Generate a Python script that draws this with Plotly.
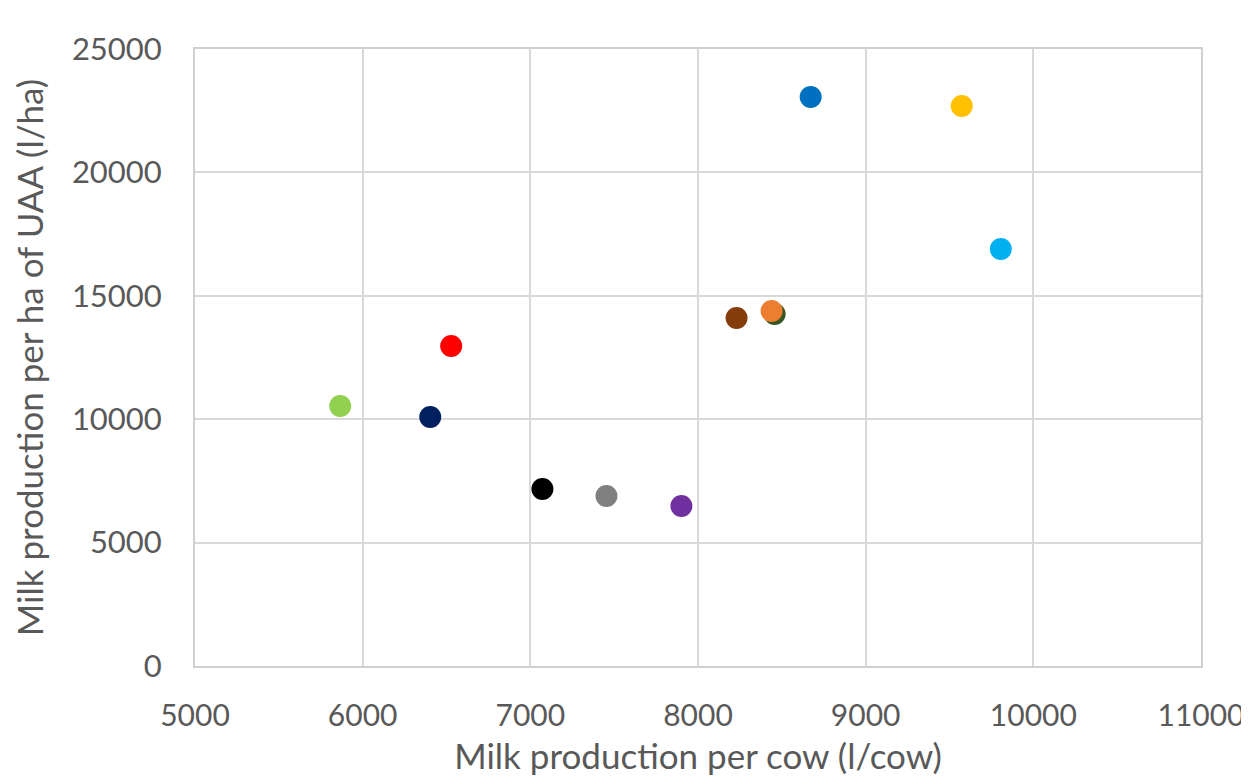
import plotly.graph_objects as go

milk_per_cow = [5866, 6403, 6528, 7072, 7454, 7901, 8230, 8457, 8439, 8672, 9573, 9806]
milk_per_ha = [10535, 10089, 12966, 7172, 6888, 6483, 14100, 14262, 14384, 23055, 22690, 16896]
colors = ["#92D050", "#002060", "#FF0000", "#000000", "#808080", "#7030A0",
          "#843C0C", "#375623", "#ED7D31", "#0070C0", "#FFC000", "#00B0F0"]

fig = go.Figure()
fig.add_trace(go.Scatter(
    x=milk_per_cow, y=milk_per_ha, mode="markers",
    marker=dict(size=22, color=colors, line=dict(width=0)),
    showlegend=False,
))

font_family = "Lato, Open Sans, sans-serif"
fig.update_layout(
    width=1241, height=768,
    margin=dict(l=187, r=48, t=41, b=110),
    paper_bgcolor="white", plot_bgcolor="white",
    font=dict(family=font_family, size=30, color="#595959"),
    xaxis=dict(
        range=[5000, 11000], dtick=1000, tick0=5000, tickformat="d",
        showgrid=True, gridcolor="#D9D9D9", gridwidth=2,
        showline=True, linecolor="#D0D0D0", linewidth=2, mirror=True,
        zeroline=False, ticks="", automargin=False, ticklabelstandoff=22,
        ticklabeloverflow="allow",
        title=dict(text="Milk production per cow (l/cow)", standoff=27,
                   font=dict(size=35, color="#595959")),
        tickfont=dict(size=30, color="#595959"),
    ),
    yaxis=dict(
        range=[0, 25000], dtick=5000, tickformat="d",
        showgrid=True, gridcolor="#D9D9D9", gridwidth=2,
        showline=True, linecolor="#D0D0D0", linewidth=2, mirror=True,
        zeroline=False, ticks="", automargin=False, ticklabelstandoff=25,
        ticklabeloverflow="allow",
        title=dict(text="Milk production per ha of UAA (l/ha)", standoff=24,
                   font=dict(size=35, color="#595959")),
        tickfont=dict(size=31, color="#595959"),
    ),
)

fig.write_html("out.html")
